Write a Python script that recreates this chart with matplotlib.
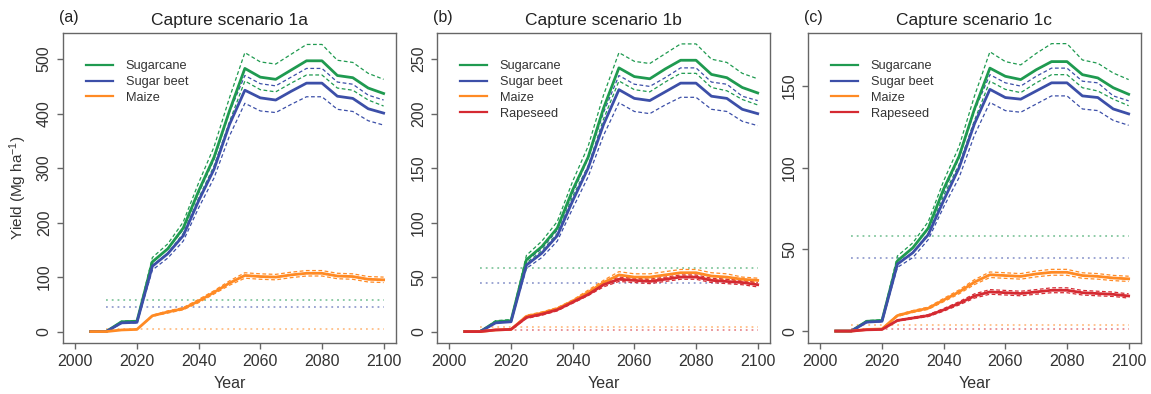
import numpy as np
import matplotlib
matplotlib.use("Agg")
import matplotlib.pyplot as plt
from matplotlib.lines import Line2D

plt.rcParams["font.family"] = ["Liberation Sans", "DejaVu Sans"]
plt.rcParams["mathtext.fontset"] = "custom"
plt.rcParams["mathtext.rm"] = "Liberation Sans"
plt.rcParams["mathtext.default"] = "regular"

years = [2005, 2010, 2015, 2020, 2025, 2030, 2035, 2040, 2045, 2050,
         2055, 2060, 2065, 2070, 2075, 2080, 2085, 2090, 2095, 2100]

# Capture scenario 1a
cane_a = [0, 0, 18, 19, 128, 152, 190, 258, 320, 405, 483, 467, 463, 480, 497, 497, 470, 466, 447, 437]
cane_a_hi = [0, 0, 19, 20, 136, 161, 201, 273, 339, 429, 512, 495, 491, 509, 527, 527, 498, 494, 474, 463]
cane_a_lo = [0, 0, 17, 18, 121, 144, 180, 245, 304, 385, 460, 444, 440, 456, 471, 471, 447, 443, 425, 414]
beet_a = [0, 0, 16, 17, 120, 143, 176, 240, 298, 380, 443, 429, 425, 441, 456, 456, 432, 428, 409, 401]
beet_a_hi = [0, 0, 17, 18, 127, 152, 187, 254, 316, 403, 470, 455, 451, 467, 483, 483, 458, 454, 434, 425]
beet_a_lo = [0, 0, 15, 16, 113, 135, 166, 227, 282, 359, 419, 405, 402, 417, 431, 431, 408, 404, 387, 379]
maize_a = [0, 0, 3, 4, 29, 36, 42, 56, 72, 89, 103, 101, 100, 104, 107, 107, 102, 101, 96, 95]
maize_a_hi = [0, 0, 3, 4, 30, 38, 44, 59, 75, 93, 108, 106, 105, 109, 112, 112, 107, 106, 101, 100]
maize_a_lo = [0, 0, 3, 4, 28, 34, 40, 53, 69, 85, 98, 96, 95, 99, 102, 102, 97, 96, 91, 90]

# Capture scenario 1b
cane_b = [0, 0, 9, 10, 66, 78, 95, 130, 160, 205, 242, 234, 232, 241, 249, 249, 236, 233, 224, 219]
cane_b_hi = [0, 0, 10, 11, 70, 83, 101, 138, 170, 217, 256, 248, 246, 255, 264, 264, 250, 247, 237, 232]
cane_b_lo = [0, 0, 9, 9, 63, 74, 90, 124, 152, 195, 230, 222, 220, 229, 237, 237, 224, 221, 213, 208]
beet_b = [0, 0, 8, 9, 61, 72, 88, 120, 150, 190, 222, 214, 212, 220, 228, 228, 216, 214, 204, 200]
beet_b_hi = [0, 0, 8, 10, 65, 76, 93, 127, 159, 201, 235, 227, 225, 233, 242, 242, 229, 227, 216, 212]
beet_b_lo = [0, 0, 8, 9, 58, 68, 83, 113, 142, 180, 210, 202, 200, 208, 215, 215, 204, 202, 193, 189]
maize_b = [0, 0, 1.5, 2, 14, 17, 21, 28, 36, 45, 52, 50, 50, 52, 54, 54, 51, 50, 48, 47]
maize_b_hi = [0, 0, 1.6, 2.1, 15, 18, 22, 29, 38, 47, 55, 53, 53, 55, 57, 57, 54, 53, 50, 49]
maize_b_lo = [0, 0, 1.4, 1.9, 13, 16, 20, 27, 34, 43, 49, 48, 48, 49, 51, 51, 48, 48, 46, 45]
rape_b = [0, 0, 1.5, 2, 13, 16, 20, 27, 34, 43, 48, 47, 46, 48, 50, 50, 47, 46, 45, 43]
rape_b_hi = [0, 0, 1.6, 2.1, 14, 17, 21, 28, 35, 45, 50, 49, 48, 50, 52, 52, 49, 48, 47, 45]
rape_b_lo = [0, 0, 1.4, 1.9, 12, 15, 19, 26, 33, 41, 46, 45, 44, 46, 48, 48, 45, 44, 43, 41]

# Capture scenario 1c
cane_c = [0, 0, 6, 6.5, 43, 51, 63, 87, 107, 136, 161, 156, 154, 160, 165, 165, 157, 155, 149, 145]
cane_c_hi = [0, 0, 6.4, 6.9, 46, 54, 67, 92, 113, 144, 171, 165, 163, 170, 176, 176, 166, 164, 158, 154]
cane_c_lo = [0, 0, 5.7, 6.2, 41, 48, 60, 83, 102, 129, 153, 148, 146, 152, 157, 157, 149, 147, 142, 138]
beet_c = [0, 0, 5.5, 6, 41, 48, 59, 80, 100, 127, 148, 143, 142, 147, 152, 152, 144, 143, 136, 133]
beet_c_hi = [0, 0, 5.8, 6.4, 43, 51, 63, 85, 106, 135, 157, 152, 150, 156, 161, 161, 153, 152, 144, 141]
beet_c_lo = [0, 0, 5.2, 5.7, 39, 45, 56, 76, 94, 120, 140, 135, 134, 139, 144, 144, 136, 135, 129, 126]
maize_c = [0, 0, 1, 1.3, 9.5, 12, 14, 19, 24, 30, 34.5, 34, 33.5, 35, 36, 36, 34, 33.5, 32.5, 32]
maize_c_hi = [0, 0, 1.1, 1.4, 10, 12.6, 14.7, 20, 25.2, 31.5, 36.2, 35.7, 35.2, 36.8, 37.8, 37.8, 35.7, 35.2, 34.1, 33.6]
maize_c_lo = [0, 0, 1, 1.2, 9, 11.4, 13.3, 18, 22.8, 28.5, 32.8, 32.3, 31.8, 33.2, 34.2, 34.2, 32.3, 31.8, 30.9, 30.4]
rape_c = [0, 0, 0.8, 1, 6.5, 8, 9.5, 13, 17, 21.5, 24, 23.5, 23, 24, 25, 25, 23.5, 23, 22.5, 21.5]
rape_c_hi = [0, 0, 0.85, 1.06, 6.9, 8.5, 10.1, 13.8, 18, 22.8, 25.4, 24.9, 24.4, 25.4, 26.5, 26.5, 24.9, 24.4, 23.9, 22.8]
rape_c_lo = [0, 0, 0.75, 0.94, 6.1, 7.5, 8.9, 12.2, 16, 20.2, 22.6, 22.1, 21.6, 22.6, 23.5, 23.5, 22.1, 21.6, 21.2, 20.2]

# Present-day reference yields (dotted lines), 2010-2100
ref_cane = 58
ref_beet = 45
ref_maize = 4
ref_rape = 1.5

crop_names = ["Sugarcane", "Sugar beet", "Maize", "Rapeseed"]
crop_colors = ["#1f9a50", "#3c4fa8", "#ff8a24", "#d52a32"]

panel_tags = ["(a)", "(b)", "(c)"]
panel_titles = ["Capture scenario 1a", "Capture scenario 1b", "Capture scenario 1c"]
panel_ylim = [(-21, 548), (-10.5, 274), (-7.3, 182.5)]
panel_yticks = [[0, 100, 200, 300, 400, 500],
                [0, 50, 100, 150, 200, 250],
                [0, 50, 100, 150]]

panel_series = [
    [(cane_a, cane_a_lo, cane_a_hi), (beet_a, beet_a_lo, beet_a_hi),
     (maize_a, maize_a_lo, maize_a_hi), None],
    [(cane_b, cane_b_lo, cane_b_hi), (beet_b, beet_b_lo, beet_b_hi),
     (maize_b, maize_b_lo, maize_b_hi), (rape_b, rape_b_lo, rape_b_hi)],
    [(cane_c, cane_c_lo, cane_c_hi), (beet_c, beet_c_lo, beet_c_hi),
     (maize_c, maize_c_lo, maize_c_hi), (rape_c, rape_c_lo, rape_c_hi)],
]
panel_refs = [
    [ref_cane, ref_beet, ref_maize, None],
    [ref_cane, ref_beet, ref_maize, ref_rape],
    [ref_cane, ref_beet, ref_maize, ref_rape],
]

text_col = "#333333"
frame_col = "#666666"

fig = plt.figure(figsize=(11.51, 3.94), dpi=100)
lefts = [0.0547, 0.3797, 0.702]

for i, left in enumerate(lefts):
    ax = fig.add_axes([left, 0.1294, 0.2893, 0.7868])

    # reference yield lines
    for ref, col in zip(panel_refs[i], crop_colors):
        if ref is None:
            continue
        ax.hlines(ref, 2010, 2100, colors=col, alpha=0.55, lw=1.3,
                  linestyles=(0, (1, 2.2)), zorder=1)

    # projected yields with uncertainty bounds
    for series, col in zip(panel_series[i], crop_colors):
        if series is None:
            continue
        mean, lo, hi = series
        ax.plot(years, hi, color=col, lw=0.9, ls=(0, (3, 2)), zorder=2)
        ax.plot(years, lo, color=col, lw=0.9, ls=(0, (3, 2)), zorder=2)
        ax.plot(years, mean, color=col, lw=2.0, zorder=3,
                solid_joinstyle="round")

    ax.set_xlim(1996, 2104)
    ax.set_ylim(*panel_ylim[i])
    ax.set_xticks([2000, 2020, 2040, 2060, 2080, 2100])
    ax.set_yticks(panel_yticks[i])

    for sp in ax.spines.values():
        sp.set_color(frame_col)
        sp.set_linewidth(1.0)
    ax.tick_params(axis="both", colors=frame_col, labelcolor=text_col,
                   length=4, width=1.0, labelsize=11.5, pad=4)
    ax.tick_params(axis="y", labelrotation=90, pad=4)
    for lab in ax.get_yticklabels():
        lab.set_va("center")

    ax.set_xlabel("Year", fontsize=11.5, color=text_col, labelpad=5)
    if i == 0:
        ax.set_ylabel("Yield (Mg ha$^{-1}$)", fontsize=11, color=text_col,
                      labelpad=6)

    ax.set_title(panel_titles[i], fontsize=12.5, color="#222222", pad=6)
    ax.text(-0.012, 1.025, panel_tags[i], transform=ax.transAxes,
            ha="left", va="bottom", fontsize=11.5, color="#222222")

    n_crops = sum(s is not None for s in panel_series[i])
    handles = [Line2D([], [], color=crop_colors[k], lw=1.6) for k in range(n_crops)]
    ax.legend(handles, crop_names[:n_crops], loc="upper left",
              bbox_to_anchor=(0.069, 0.912), frameon=False, fontsize=9.2,
              handlelength=2.1, handletextpad=1.0, labelspacing=0.3,
              borderpad=0, borderaxespad=0, labelcolor=text_col)

fig.savefig("out.png", dpi=100)
